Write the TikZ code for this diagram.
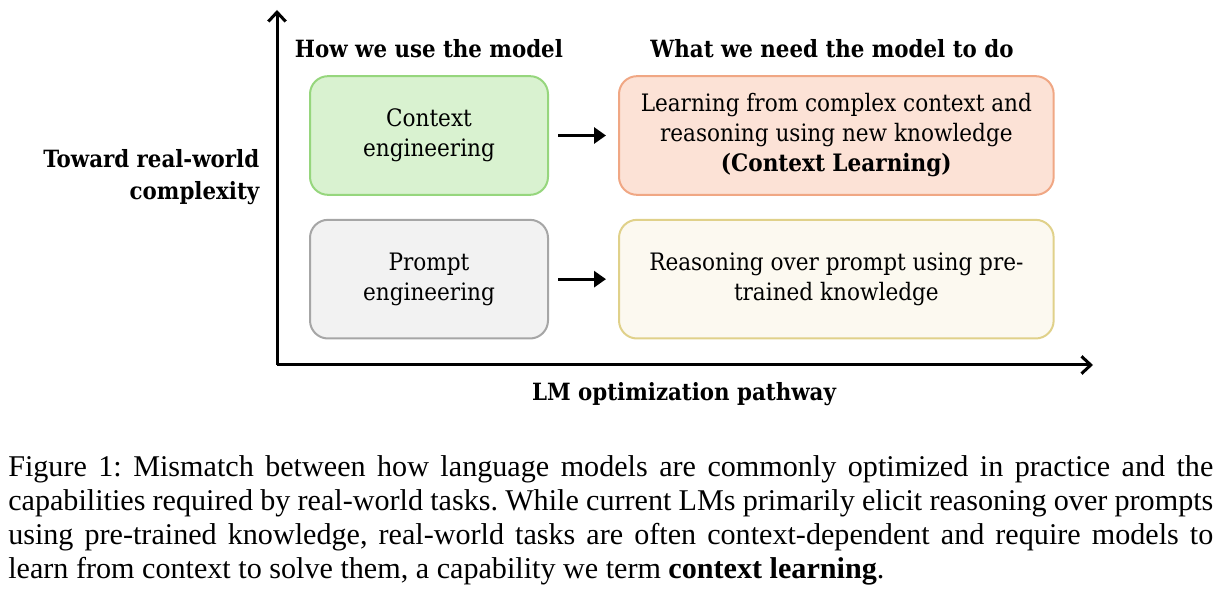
\documentclass[tikz,border=0pt]{standalone}
\usepackage{fontspec}
\setmainfont{DejaVu Serif Condensed}
\newfontfamily\capfont{Liberation Serif}
\usepackage{xcolor}
\usepackage{tikz}
\usetikzlibrary{arrows.meta, positioning, calc}

\definecolor{ctxfill}{RGB}{217,242,208}
\definecolor{ctxline}{RGB}{150,214,125}
\definecolor{lrnfill}{RGB}{252,226,214}
\definecolor{lrnline}{RGB}{240,167,132}
\definecolor{prmfill}{RGB}{242,242,242}
\definecolor{prmline}{RGB}{166,166,166}
\definecolor{rsnfill}{RGB}{252,249,240}
\definecolor{rsnline}{RGB}{224,209,138}

\tikzset{
  box/.style={draw, line width=1.5pt, rounded corners=13.5pt, align=center,
    minimum height=89pt, font=\fontsize{18}{22.5}\selectfont},
  narrowbox/.style={box, minimum width=178.5pt},
  widebox/.style={box, minimum width=326pt},
  axis/.style={line width=2.25pt, -{Straight Barb[length=7pt, width=13pt, line width=2.25pt]}},
  flow/.style={line width=2.25pt, -{Triangle[length=9pt, width=12pt]},
    shorten <=6.75pt, shorten >=9pt},
  head/.style={font=\bfseries\fontsize{17.8}{23.5}\selectfont},
}

\begin{document}
\begin{tikzpicture}[x=0.75pt, y=-0.75pt]
  \useasboundingbox (0,0) rectangle (1218,591);
  % axes
  \coordinate (orig) at (277,365);
  \coordinate (ytip) at (277,10);
  \coordinate (xtip) at (1093,365);
  \draw[axis] (orig) -- (ytip);
  \draw[axis] (orig) -- (xtip);
  % boxes
  \node[narrowbox, fill=ctxfill, draw=ctxline] (ctx) at (429,135.5) {Context\\engineering};
  \node[widebox, fill=lrnfill, draw=lrnline, right=51.75pt of ctx] (lrn)
    {Learning from complex context and\\reasoning using new knowledge\\\textbf{(Context Learning)}};
  \node[narrowbox, fill=prmfill, draw=prmline, below=17.25pt of ctx] (prm) {Prompt\\engineering};
  \node[widebox, fill=rsnfill, draw=rsnline, right=51.75pt of prm] (rsn)
    {Reasoning over prompt using pre-\\trained knowledge};
  \draw[flow] (ctx) -- (lrn);
  \draw[flow] (prm) -- (rsn);
  % labels
  \node[head] (usehead) at (429,49) {How we use the model};
  \node[head] (needhead) at (832,49) {What we need the model to do};
  \node[head, align=right, anchor=east] (ylab) at (264,177) {Toward real-world\\complexity};
  \node[head] (xlab) at (684,394) {LM optimization pathway};
  % caption
  \node[anchor=north west, inner sep=0pt, text width=903.75pt, align=justify,
    font=\capfont\frenchspacing\fontsize{22.6}{25.5}\selectfont] (cap) at (8,455)
    {Figure 1: Mismatch between how language models are commonly optimized in practice and the\linebreak
     capabilities required by real-world tasks. While current LMs primarily elicit reasoning over prompts\linebreak
     using pre-trained knowledge, real-world tasks are often context-dependent and require models to\linebreak
     learn from context to solve them, a capability we term \textbf{context learning}.};
\end{tikzpicture}
\end{document}
